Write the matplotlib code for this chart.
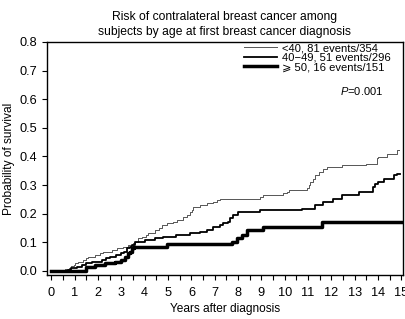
import matplotlib
matplotlib.use("Agg")
import matplotlib.pyplot as plt
from matplotlib.ticker import MultipleLocator, FixedLocator

plt.rcParams['font.family'] = ['Liberation Sans', 'DejaVu Sans']
plt.rcParams['mathtext.fontset'] = 'custom'
plt.rcParams['mathtext.rm'] = 'Liberation Sans'
plt.rcParams['mathtext.it'] = 'Liberation Sans:italic'

# step curves: (years, cumulative probability)
t_lt40 = [0.0, 0.45, 0.6, 0.75, 0.85, 0.95, 1.0, 1.15, 1.36, 1.5, 1.58, 1.86, 2.08, 2.2,
          2.58, 2.8, 3.08, 3.3, 3.5, 3.6, 3.72, 3.9, 4.05, 4.15, 4.44, 4.6, 4.72, 4.95,
          5.2, 5.4, 5.64, 5.8, 5.95, 6.02, 6.07, 6.37, 6.66, 6.94, 7.1, 7.22, 8.94, 9.07,
          9.93, 10.1, 10.2, 10.95, 11.05, 11.08, 11.2, 11.3, 11.45, 11.64, 11.8, 12.45,
          13.5, 13.94, 14.0, 14.4, 14.8, 14.88]
p_lt40 = [0.0, 0.004, 0.008, 0.012, 0.017, 0.022, 0.027, 0.032, 0.038, 0.044, 0.05, 0.056,
          0.062, 0.067, 0.073, 0.079, 0.085, 0.091, 0.097, 0.103, 0.114, 0.12, 0.126, 0.131,
          0.143, 0.149, 0.16, 0.166, 0.172, 0.178, 0.19, 0.196, 0.207, 0.213, 0.224, 0.232,
          0.236, 0.242, 0.247, 0.253, 0.259, 0.265, 0.271, 0.277, 0.282, 0.289, 0.3, 0.311,
          0.322, 0.334, 0.345, 0.358, 0.363, 0.369, 0.375, 0.393, 0.399, 0.41, 0.422, 0.422]

t_40_49 = [0.0, 0.72, 0.85, 1.08, 1.29, 1.5, 1.72, 2.15, 2.35, 2.5, 2.75, 3.0, 3.1, 3.22,
           3.35, 3.44, 3.58, 4.0, 4.44, 4.79, 5.36, 5.94, 6.36, 6.66, 6.93, 7.22, 7.36, 7.55,
           7.65, 7.8, 8.0, 8.94, 10.75, 11.3, 11.64, 12.08, 12.47, 13.17, 13.78, 13.87, 14.0,
           14.25, 14.68, 14.8, 14.92]
p_40_49 = [0.0, 0.005, 0.01, 0.015, 0.021, 0.027, 0.032, 0.038, 0.044, 0.05, 0.056, 0.062,
           0.068, 0.079, 0.085, 0.09, 0.102, 0.108, 0.114, 0.12, 0.125, 0.131, 0.137, 0.143,
           0.154, 0.16, 0.166, 0.172, 0.184, 0.195, 0.207, 0.212, 0.218, 0.23, 0.241, 0.253,
           0.265, 0.276, 0.294, 0.305, 0.311, 0.323, 0.334, 0.34, 0.34]

t_ge50 = [0.0, 1.5, 1.86, 2.29, 2.72, 3.0, 3.15, 3.3, 3.36, 3.44, 3.55, 4.94, 7.72, 7.94,
          8.15, 8.4, 9.08, 11.58, 15.0]
p_ge50 = [0.0, 0.015, 0.021, 0.027, 0.032, 0.038, 0.05, 0.062, 0.068, 0.079, 0.085, 0.093,
          0.102, 0.114, 0.125, 0.143, 0.154, 0.172, 0.172]

labels = ["<40, 81 events/354", "40\u221249, 51 events/296", "\u2a7e 50, 16 events/151"]

fig = plt.figure(figsize=(4.05, 3.19), dpi=100)
ax = fig.add_axes([47 / 405, 44 / 319, 356 / 405, 233 / 319])

ax.plot(t_lt40, p_lt40, drawstyle="steps-post", color="#555555", lw=0.7, label=labels[0])
ax.plot(t_40_49, p_40_49, drawstyle="steps-post", color="black", lw=1.3, label=labels[1])
ax.plot(t_ge50, p_ge50, drawstyle="steps-post", color="black", lw=2.5, label=labels[2])

ax.set_xlim(-0.19, 15.07)
ax.set_ylim(-0.014, 0.8)
ax.xaxis.set_major_locator(FixedLocator(range(16)))
ax.xaxis.set_minor_locator(MultipleLocator(0.5))
ax.yaxis.set_major_locator(MultipleLocator(0.1))
ax.yaxis.set_major_formatter(lambda v, pos: f"{v:.1f}")
ax.tick_params(axis="both", which="both", direction="out", length=3.5, width=0.8,
               labelsize=9.2, colors="black")
ax.tick_params(axis="x", pad=5)
ax.tick_params(axis="y", pad=3.5)
for s in ax.spines.values():
    s.set_linewidth(1.0)

ax.set_xlabel("Years after diagnosis", fontsize=8.6, labelpad=3)
ax.set_ylabel("Probability of survival", fontsize=8.6, labelpad=3)
ax.set_title("Risk of contralateral breast cancer among\nsubjects by age at first breast cancer diagnosis",
             fontsize=8.7, pad=5, linespacing=1.35)

ax.legend(loc="upper right", bbox_to_anchor=(0.966, 0.995), frameon=False, fontsize=8.1,
          handlelength=2.9, handletextpad=0.45, labelspacing=-0.05, borderaxespad=0.0,
          borderpad=0.0)
ax.text(0.944, 0.79, "$P$=0.001", transform=ax.transAxes, ha="right", va="center",
        fontsize=8.0)

fig.savefig("out.png", dpi=100)
